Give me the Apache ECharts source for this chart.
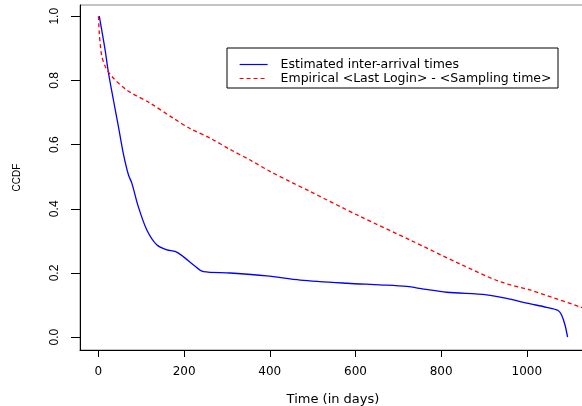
<!DOCTYPE html>
<html>
<head>
<meta charset="utf-8">
<script src="https://cdn.jsdelivr.net/npm/echarts@6/dist/echarts.min.js"></script>
<style>
  html, body { margin: 0; padding: 0; background: #fff; }
  #echart { width: 582px; height: 406px; }
</style>
</head>
<body>
<div id="echart"></div>
<script type="text/javascript">
// tick labels
var xTicks = [0, 200, 400, 600, 800, 1000];
var yTicks = [0, 0.2, 0.4, 0.6, 0.8, 1.0];

// Estimated inter-arrival times (blue, solid)
var estDays = [2, 15.6, 23, 35, 46.7, 58, 70, 78, 93, 113, 136, 160, 179, 198, 222, 245, 307, 393, 471, 580, 657, 720, 759, 813, 906, 953, 1000, 1046, 1073, 1081, 1089, 1095];
var estCcdf = [1.0, 0.895, 0.827, 0.739, 0.656, 0.573, 0.506, 0.48, 0.407, 0.334, 0.288, 0.272, 0.267, 0.251, 0.225, 0.204, 0.2, 0.191, 0.178, 0.168, 0.163, 0.158, 0.15, 0.14, 0.132, 0.121, 0.106, 0.093, 0.083, 0.069, 0.038, 0.0];

// Empirical <Last Login> - <Sampling time> (red, dashed)
var empDays = [0, 2, 4, 8, 16, 20, 35, 66, 121, 175, 214, 261, 307, 354, 401, 447, 494, 611, 727, 844, 937, 1007, 1129];
var empCcdf = [1.0, 0.947, 0.916, 0.874, 0.843, 0.833, 0.807, 0.770, 0.729, 0.682, 0.650, 0.620, 0.585, 0.552, 0.516, 0.485, 0.454, 0.376, 0.303, 0.228, 0.173, 0.147, 0.092];

function pairs(xs, ys) {
  return xs.map(function (x, i) { return [x, ys[i]]; });
}

var myChart = echarts.init(document.getElementById("echart"));
var wide = 'DejaVu Sans, Arial, sans-serif';      // horizontal text
var plain = 'Liberation Sans, Arial, sans-serif'; // rotated text

option = {
  animation: false,
  backgroundColor: '#fff',
  textStyle: { fontFamily: wide },
  grid: {
    left: 80,
    top: 5,
    width: 506,
    height: 345,
    outerBoundsMode: 'none',
    containLabel: false,
    show: true,
    borderColor: '#888',
    borderWidth: 1
  },
  legend: {
    orient: 'vertical',
    left: 234,
    top: 53,
    itemWidth: 28,
    itemHeight: 10,
    itemGap: 1,
    itemStyle: { opacity: 0 },
    lineStyle: { width: 1.2 },
    textStyle: { fontFamily: wide, fontSize: 12.5, color: '#000', padding: [0, 0, 0, 8] },
    data: ['Estimated inter-arrival times', 'Empirical <Last Login> - <Sampling time>']
  },
  graphic: [{
    type: 'rect',
    shape: { x: 227, y: 48, width: 331, height: 40 },
    style: { fill: 'none', stroke: '#000', lineWidth: 1 },
    z: 10
  }],
  xAxis: {
    type: 'value',
    min: -43,
    max: 1138,
    name: 'Time (in days)',
    nameLocation: 'middle',
    nameGap: 43,
    nameTextStyle: { fontFamily: wide, fontSize: 13, color: '#000' },
    axisLine: { show: true, onZero: false, lineStyle: { color: '#000', width: 1 } },
    axisTick: { show: true, length: 7, lineStyle: { color: '#000' }, customValues: xTicks },
    axisLabel: {
      color: '#000', fontFamily: wide, fontSize: 12, margin: 16,
      customValues: xTicks,
      formatter: function (v) { return String(v); }
    },
    splitLine: { show: false }
  },
  yAxis: {
    type: 'value',
    min: -0.04,
    max: 1.035,
    name: 'CCDF',
    nameLocation: 'middle',
    nameGap: 58,
    nameTextStyle: { fontFamily: 'Liberation Sans Narrow, Liberation Sans, sans-serif', fontSize: 10, color: '#000' },
    axisLine: { show: true, onZero: false, lineStyle: { color: '#000', width: 1 } },
    axisTick: { show: true, length: 9, lineStyle: { color: '#000' }, customValues: yTicks },
    axisLabel: {
      color: '#000', fontFamily: plain, fontSize: 12, margin: 19, rotate: 90,
      customValues: yTicks,
      formatter: function (v) { return v.toFixed(1); }
    },
    splitLine: { show: false }
  },
  series: [
    {
      name: 'Estimated inter-arrival times',
      type: 'line',
      data: pairs(estDays, estCcdf),
      smooth: 0.3,
      symbol: 'none',
      color: '#0000ff',
      lineStyle: { color: '#0000ff', width: 1.3 }
    },
    {
      name: 'Empirical <Last Login> - <Sampling time>',
      type: 'line',
      data: pairs(empDays, empCcdf),
      smooth: 0.3,
      symbol: 'none',
      color: '#ff0000',
      lineStyle: { color: '#ff0000', width: 1.3, type: [4, 3] }
    }
  ]
};
myChart.setOption(option);
</script>
</body>
</html>
